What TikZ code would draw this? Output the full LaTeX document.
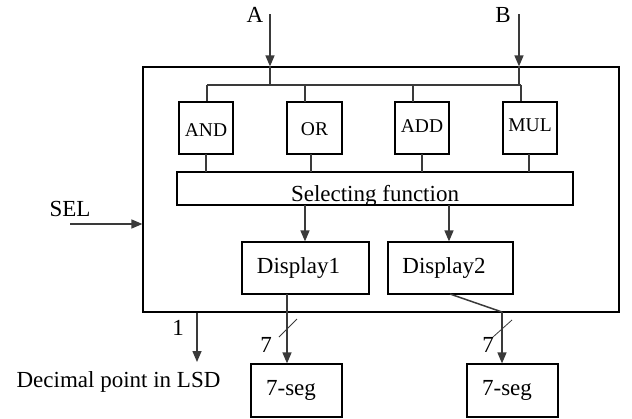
\documentclass[tikz,border=0pt]{standalone}
\usepackage{fontspec}
\setmainfont{Liberation Serif}
\usetikzlibrary{arrows.meta}
\definecolor{wire}{HTML}{3A3A3A}
\begin{document}
\begin{tikzpicture}[x=1pt,y=-1pt,
  font=\fontsize{23}{25}\selectfont,
  box/.style={draw=black,line width=1.2pt,inner sep=0pt,rectangle,text depth=0pt},
  gate/.style={box,minimum width=54pt,minimum height=52pt,font=\fontsize{19.5}{21}\selectfont},
  wireline/.style={draw=wire,line width=1.5pt},
  arr/.style={wireline,-{Triangle[length=11pt,width=9pt]}},
  slash/.style={draw=wire,line width=0.8pt},
  lbl/.style={inner sep=0pt,anchor=base}]
\useasboundingbox (0,0) rectangle (632,418);
% boxes
\node[box,minimum width=476pt,minimum height=245pt] (outer) at (381,189.5) {};
\node[gate,text height=17pt] (and) at (206,128) {AND};
\node[gate,minimum width=55pt,text height=15pt] (or) at (314.5,128) {OR};
\node[gate,text height=9.5pt] (add) at (422,128) {ADD};
\node[gate,text height=7.5pt] (mul) at (530,128) {MUL};
\node[box,minimum width=396pt,minimum height=33pt,text height=26pt] (sel) at (375,188.5) {Selecting function};
\node[box,minimum width=127pt,minimum height=52pt,text height=10pt] (d1) at (305.5,268) {\hspace{-14pt}Display1};
\node[box,minimum width=125pt,minimum height=52pt,text height=10pt] (d2) at (450.5,268) {\hspace{-13pt}Display2};
\node[box,minimum width=91pt,minimum height=53pt,text height=10pt] (s1) at (296.5,390.5) {\hspace{-11pt}7-seg};
\node[box,minimum width=91pt,minimum height=53pt,text height=10pt] (s2) at (512.5,390.5) {\hspace{-11pt}7-seg};
% labels
\node[lbl] (la) at (255,22) {A};
\node[lbl] (lb) at (503,22) {B};
\node[lbl] (lsel) at (70,216) {SEL};
\node[lbl] (lone) at (178,335) {1};
\node[lbl] (lseven1) at (266,352) {7};
\node[lbl] (lseven2) at (488,352) {7};
\node[lbl] (ldp) at (118.5,387) {Decimal point in LSD};
% coordinates
\coordinate (ain) at (270,14);
\coordinate (bin) at (519,14);
\coordinate (busL) at (207,85);
\coordinate (busR) at (521,85);
\coordinate (selin) at (70,224);
\coordinate (dpout) at (197,362);
\coordinate (d1out) at (287,294);
\coordinate (d2out) at (450,294);
\coordinate (bend) at (502,312);
% inputs
\draw[arr] (ain) -- (ain |- outer.north);
\draw[arr] (bin) -- (bin |- outer.north);
\draw[wireline] (ain |- outer.north) -- (ain |- busL);
\draw[wireline] (bin |- outer.north) -- (bin |- busL);
\draw[wireline] (busL) -- (busR);
\draw[wireline] (busL) -- (busL |- and.north);
\draw[wireline] (305,85) -- (305,102) coordinate (orin);
\draw[wireline] (413,85) -- (413,102) coordinate (addin);
\draw[wireline] (busR) -- (busR |- mul.north);
% gates to selecting function
\draw[wireline] (206,154) -- (206,172);
\draw[wireline] (311,154) -- (311,172);
\draw[wireline] (422,154) -- (422,172);
\draw[wireline] (529,154) -- (529,172);
% selecting to displays
\draw[arr] (305,205) -- (d1.north -| 305,0);
\draw[arr] (449,205) -- (d2.north -| 449,0);
% SEL
\draw[arr] (selin) -- (selin -| outer.west);
% decimal point
\draw[arr] (dpout |- outer.south) -- (dpout);
% displays to 7-seg
\draw[arr] (d1out) -- (d1out |- s1.north);
\draw[wireline] (d2out) -- (bend);
\draw[arr] (bend) -- (bend |- s2.north);
% bus width slashes
\draw[slash] (279,337) -- (297,319);
\draw[slash] (493,337) -- (512,320);
\end{tikzpicture}
\end{document}
